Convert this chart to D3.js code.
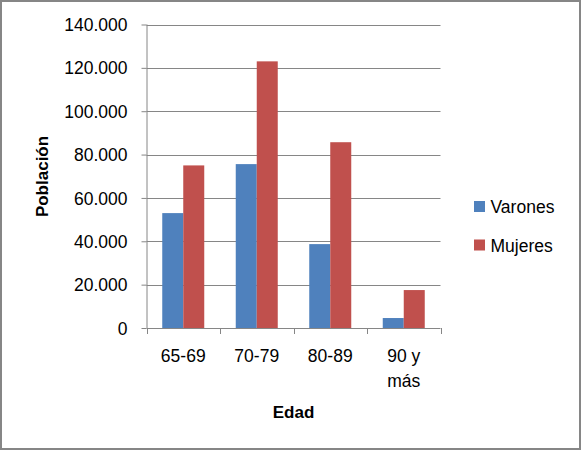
<!DOCTYPE html>
<html>
<head>
<meta charset="utf-8">
<script src="https://cdn.jsdelivr.net/npm/d3@7"></script>
<style>
  html, body { margin: 0; padding: 0; background: #fff; }
  svg { display: block; font-family: "Liberation Sans", Arial, sans-serif; }
</style>
</head>
<body>
<svg id="chart" width="582" height="451"></svg>
<script>
// data
const categories = ["65-69", "70-79", "80-89", "90 y más"];
const seriesNames = ["Varones", "Mujeres"];
const varones = [53000, 75600, 38700, 4600];
const mujeres = [75000, 123000, 85700, 17500];
const yTicks = [0, 20000, 40000, 60000, 80000, 100000, 120000, 140000];
const colors = ["#4F81BD", "#C0504D"];

const svg = d3.select("#chart");
const W = 582, H = 451;
const plot = { left: 146.5, right: 440.5, top: 24.5, bottom: 328 };
const gray = "#868686";

// outer frame
svg.append("rect")
    .attr("x", 1).attr("y", 1)
    .attr("width", W - 3).attr("height", H - 3)
    .attr("fill", "#fff")
    .attr("stroke", gray)
    .attr("stroke-width", 2);

const x = d3.scaleBand()
    .domain(categories)
    .range([plot.left, plot.right]);

const y = d3.scaleLinear()
    .domain([0, 140000])
    .range([plot.bottom, plot.top]);

const barW = 21;
const xSub = d3.scaleBand()
    .domain(seriesNames)
    .range([0, barW * 2]);

const fmt = d => d3.format(",")(d).replace(/,/g, ".");

// gridlines
svg.append("g")
    .selectAll("line")
    .data(yTicks.filter(t => t > 0))
    .enter().append("line")
    .attr("x1", plot.left).attr("x2", plot.right)
    .attr("y1", d => Math.round(y(d)) + 0.5)
    .attr("y2", d => Math.round(y(d)) + 0.5)
    .attr("stroke", gray)
    .attr("stroke-width", 1);

// bars
const rows = categories.map((c, i) => ({ cat: c, vals: [varones[i], mujeres[i]] }));
const groups = svg.append("g")
    .selectAll("g")
    .data(rows)
    .enter().append("g")
    .attr("transform", d => `translate(${x(d.cat) + x.bandwidth() / 2 - barW},0)`);

groups.selectAll("rect")
    .data(d => d.vals.map((v, k) => ({ name: seriesNames[k], v, k })))
    .enter().append("rect")
    .attr("x", d => xSub(d.name))
    .attr("width", xSub.bandwidth())
    .attr("y", d => y(d.v))
    .attr("height", d => y(0) - y(d.v))
    .attr("fill", d => colors[d.k]);

// y axis
const yAxis = svg.append("g")
    .attr("transform", `translate(${plot.left},0)`)
    .call(d3.axisLeft(y).tickValues(yTicks).tickFormat(fmt).tickSize(5).tickPadding(14));
yAxis.select(".domain").attr("stroke", gray).attr("d", `M0.5,${plot.top}V${plot.bottom}`);
yAxis.selectAll(".tick line").attr("stroke", gray);
yAxis.selectAll(".tick text")
    .attr("fill", "#000")
    .style("font-size", "17.5px")
    .attr("dy", "0.35em");

// x axis
const xAxisG = svg.append("g")
    .attr("transform", `translate(0,${plot.bottom})`);
xAxisG.append("line")
    .attr("x1", plot.left).attr("x2", plot.right)
    .attr("y1", 0.5).attr("y2", 0.5)
    .attr("stroke", gray);
const bounds = categories.map(c => x(c)).concat([plot.right]);
xAxisG.selectAll("line.tick")
    .data(bounds)
    .enter().append("line")
    .attr("class", "tick")
    .attr("x1", d => Math.round(d) + 0.5).attr("x2", d => Math.round(d) + 0.5)
    .attr("y1", 0).attr("y2", 6)
    .attr("stroke", gray);

const xLabels = xAxisG.selectAll("text.cat")
    .data(categories)
    .enter().append("text")
    .attr("class", "cat")
    .attr("text-anchor", "middle")
    .attr("x", d => x(d) + x.bandwidth() / 2)
    .attr("y", 34)
    .style("font-size", "17.5px")
    .attr("fill", "#000");
xLabels.each(function(d) {
    const words = d === "90 y más" ? ["90 y", "más"] : [d];
    const t = d3.select(this);
    words.forEach((w, i) => {
        t.append("tspan")
            .attr("x", x(d) + x.bandwidth() / 2)
            .attr("dy", i === 0 ? 0 : 25)
            .text(w);
    });
});

// axis titles
svg.append("text")
    .attr("x", 293.5).attr("y", 418)
    .attr("text-anchor", "middle")
    .style("font-size", "17px")
    .style("font-weight", "bold")
    .text("Edad");

svg.append("text")
    .attr("transform", "translate(48,176.5) rotate(-90)")
    .attr("text-anchor", "middle")
    .style("font-size", "17px")
    .style("font-weight", "bold")
    .text("Población");

// legend
const legend = svg.append("g")
    .selectAll("g")
    .data(seriesNames)
    .enter().append("g")
    .attr("transform", (d, i) => `translate(474,${201 + i * 38.5})`);
legend.append("rect")
    .attr("width", 11).attr("height", 11)
    .attr("fill", (d, i) => colors[i]);
legend.append("text")
    .attr("x", 16.5).attr("y", 12.3)
    .style("font-size", "17.5px")
    .text(d => d);
</script>
</body>
</html>
